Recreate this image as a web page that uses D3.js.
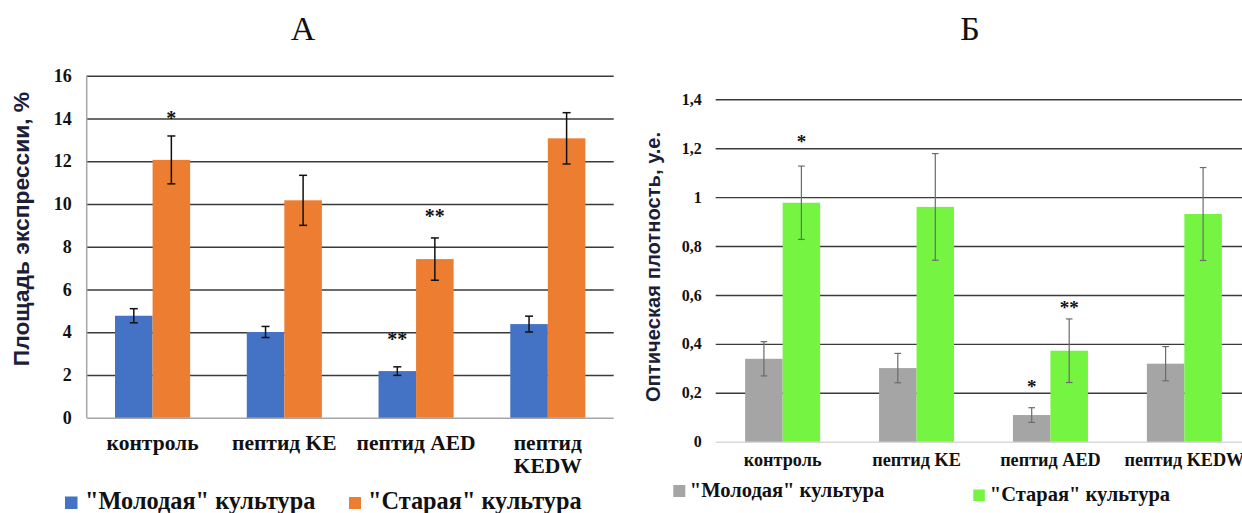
<!DOCTYPE html>
<html>
<head>
<meta charset="utf-8">
<script src="https://cdn.jsdelivr.net/npm/d3@7"></script>
<style>
  html, body { margin: 0; padding: 0; background: #fff; }
  svg { display: block; }
</style>
</head>
<body>
<svg id="chart" width="1242" height="513"></svg>
<script>
// ---------------- DATA ----------------
const categories = ["контроль", "пептид KE", "пептид AED", "пептид KEDW"];
const seriesNames = ["\"Молодая\" культура", "\"Старая\" культура"];

// Panel А — площадь экспрессии, %
const A_young    = [4.77, 4.01, 2.18, 4.38];
const A_youngErr = [0.33, 0.26, 0.20, 0.37];
const A_old      = [12.06, 10.17, 7.42, 13.07];
const A_oldErr   = [1.12, 1.17, 0.99, 1.20];
const A_ticks    = [0, 2, 4, 6, 8, 10, 12, 14, 16];
// significance marks: [category index, series index, label, level]
const A_marks = [[0, 1, "*", 14.16], [2, 1, "**", 9.56], [2, 0, "**", 3.84]];

// Panel Б — оптическая плотность, у.е.
const B_young    = [0.339, 0.301, 0.109, 0.319];
const B_youngErr = [0.07, 0.06, 0.03, 0.07];
const B_old      = [0.977, 0.960, 0.372, 0.931];
const B_oldErr   = [0.15, 0.218, 0.13, 0.19];
const B_ticks    = [0, 0.2, 0.4, 0.6, 0.8, 1.0, 1.2, 1.4];
const B_marks = [[0, 1, "*", 1.241], [2, 0, "*", 0.236], [2, 1, "**", 0.559]];

// ---------------- RENDER ----------------
const svg = d3.select("#chart");
const SERIF = "'Liberation Serif', 'Times New Roman', serif";
const SANS = "'Liberation Sans', Arial, sans-serif";

function boldSerif(sel, size, color) {
  return sel.attr("font-family", SERIF).attr("font-weight", "bold")
    .attr("font-size", size).attr("fill", color);
}

function panel(cfg) {
  const g = svg.append("g");
  const x0 = d3.scaleBand().domain(categories).range([cfg.left, cfg.right])
    .paddingInner(cfg.padInner).paddingOuter(cfg.padInner / 2);
  const x1 = d3.scaleBand().domain([0, 1]).range([0, x0.bandwidth()]);
  const y = d3.scaleLinear().domain(cfg.domain).range([cfg.bottom, cfg.top]);
  const plotW = cfg.right - cfg.left;

  // grid + tick labels
  const ax = g.append("g").attr("transform", `translate(${cfg.left},0)`)
    .call(d3.axisLeft(y).tickValues(cfg.ticks).tickSize(-plotW)
      .tickPadding(cfg.tickPad).tickFormat(cfg.fmt));
  ax.select(".domain").remove();
  ax.selectAll(".tick line")
    .attr("stroke", d => d === 0 ? cfg.zeroColor : cfg.gridColor)
    .attr("stroke-width", d => d === 0 ? 1.5 : 1.4);
  boldSerif(ax.selectAll(".tick text"), cfg.tickFont, "#111");

  if (cfg.yLine) {
    g.append("line").attr("x1", cfg.left).attr("x2", cfg.left)
      .attr("y1", y(cfg.domain[1])).attr("y2", y(0))
      .attr("stroke", cfg.zeroColor).attr("stroke-width", 1.5);
  }

  // bars
  const rows = [];
  categories.forEach((c, i) => {
    rows.push({ c, s: 0, v: cfg.young[i], e: cfg.youngErr[i] });
    rows.push({ c, s: 1, v: cfg.old[i], e: cfg.oldErr[i] });
  });
  g.selectAll("rect.bar").data(rows).join("rect").attr("class", "bar")
    .attr("x", d => x0(d.c) + x1(d.s))
    .attr("width", x1.bandwidth())
    .attr("y", d => y(d.v))
    .attr("height", d => y(0) - y(d.v))
    .attr("fill", d => cfg.colors[d.s]);

  // error bars
  const eb = g.selectAll("g.err").data(rows).join("g").attr("class", "err")
    .attr("stroke", cfg.errColor).attr("stroke-width", cfg.errWidth).attr("fill", "none");
  const cx = d => x0(d.c) + x1(d.s) + x1.bandwidth() / 2;
  eb.append("line").attr("x1", cx).attr("x2", cx)
    .attr("y1", d => y(d.v + d.e)).attr("y2", d => y(d.v - d.e));
  eb.append("line").attr("x1", d => cx(d) - cfg.cap).attr("x2", d => cx(d) + cfg.cap)
    .attr("y1", d => y(d.v + d.e)).attr("y2", d => y(d.v + d.e));
  eb.append("line").attr("x1", d => cx(d) - cfg.cap).attr("x2", d => cx(d) + cfg.cap)
    .attr("y1", d => y(d.v - d.e)).attr("y2", d => y(d.v - d.e));

  // significance marks
  const mk = g.selectAll("text.mark").data(cfg.marks).join("text").attr("class", "mark")
    .attr("x", d => x0(categories[d[0]]) + x1(d[1]) + x1.bandwidth() / 2)
    .attr("y", d => y(d[3]) + cfg.markFont * 0.5)
    .attr("text-anchor", "middle")
    .text(d => d[2]);
  boldSerif(mk, cfg.markFont, "#111");

  // category labels (wrap if wider than band step)
  categories.forEach(c => {
    const t = g.append("text")
      .attr("x", x0(c) + x0.bandwidth() / 2).attr("y", cfg.catY)
      .attr("text-anchor", "middle").text(c);
    boldSerif(t, cfg.catFont, "#111");
    if (cfg.wrap && t.node().getComputedTextLength() > x0.step() - 8) {
      const words = c.split(" ");
      t.text(null);
      words.forEach((w, k) => {
        t.append("tspan").attr("x", x0(c) + x0.bandwidth() / 2)
          .attr("dy", k === 0 ? 0 : cfg.lineH).text(w);
      });
    }
  });

  // axis title
  g.append("text")
    .attr("transform", `translate(${cfg.titleX},${cfg.titleY}) rotate(-90)`)
    .attr("text-anchor", "middle")
    .attr("font-family", SANS).attr("font-weight", "bold")
    .attr("font-size", cfg.titleFont).attr("fill", "#1b2038")
    .text(cfg.yTitle);

  // panel letter
  g.append("text").attr("x", cfg.letterX).attr("y", 40).attr("text-anchor", "middle")
    .attr("font-family", SERIF).attr("font-size", 34).attr("fill", "#111")
    .text(cfg.letter);

  // legend
  cfg.legend.forEach((L, i) => {
    g.append("rect").attr("x", L.x).attr("y", L.y - L.sq).attr("width", L.sq).attr("height", L.sq)
      .attr("fill", cfg.colors[i]);
    const t = g.append("text").attr("x", L.x + L.sq + L.gap).attr("y", L.y).text(seriesNames[i]);
    boldSerif(t, cfg.legFont, "#111");
  });
}

panel({
  letter: "А", letterX: 303,
  left: 86.7, right: 613.7, top: 75.7, bottom: 417.7, padInner: 0.43,
  domain: [0, 16], ticks: A_ticks, fmt: d3.format("d"), tickPad: 15, tickFont: 18,
  young: A_young, youngErr: A_youngErr, old: A_old, oldErr: A_oldErr,
  colors: ["#4472c4", "#ed7d31"],
  gridColor: "#3a3a3a", zeroColor: "#a6a6a6", yLine: true,
  errColor: "#111", errWidth: 1.5, cap: 4,
  marks: A_marks, markFont: 20,
  catY: 450, catFont: 21.5, wrap: true, lineH: 23,
  yTitle: "Площадь экспрессии, %", titleX: 29, titleY: 229, titleFont: 22.8,
  legFont: 24.3,
  legend: [{ x: 65, y: 509, sq: 12.5, gap: 7.5 }, { x: 349, y: 509, sq: 12, gap: 7 }]
});

panel({
  letter: "Б", letterX: 970,
  left: 715.7, right: 1251.3, top: 99.3, bottom: 441.7, padInner: 0.44,
  domain: [0, 1.4], ticks: B_ticks, fmt: d => d3.format("~g")(d).replace(".", ","), tickPad: 14, tickFont: 16,
  young: B_young, youngErr: B_youngErr, old: B_old, oldErr: B_oldErr,
  colors: ["#a5a5a5", "#75f442"],
  gridColor: "#3a3a3a", zeroColor: "#d9d9d9", yLine: false,
  errColor: "#6b6b6b", errWidth: 1.2, cap: 3.3,
  marks: B_marks, markFont: 19,
  catY: 465.5, catFont: 18.2, wrap: false, lineH: 20,
  yTitle: "Оптическая плотность, у.е.", titleX: 659.5, titleY: 267, titleFont: 20.2,
  legFont: 20.5,
  legend: [{ x: 673.3, y: 497, sq: 12, gap: 4.5 }, { x: 973.3, y: 501, sq: 11.5, gap: 5 }]
});
</script>
</body>
</html>
